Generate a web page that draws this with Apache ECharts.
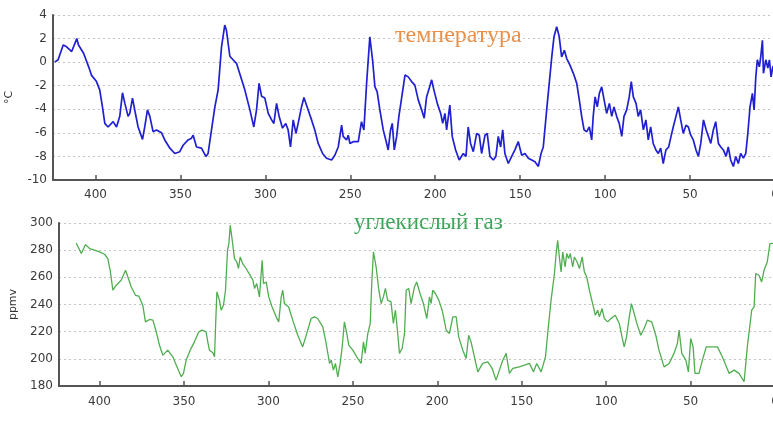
<!DOCTYPE html>
<html><head><meta charset="utf-8">
<script src="https://cdn.jsdelivr.net/npm/echarts@6/dist/echarts.min.js"></script>
<style>html,body{margin:0;padding:0;background:#fff}#c{width:773px;height:426px}</style>
</head><body><div id="c"></div>
<script>
// Age (thousand years before present) and temperature anomaly (°C)
const tempAge = [424,422,419,417,414,411,410,407,404,402.4,399.4,397.5,395.9,394.5,392.6,389.6,387.6,385.7,384.1,382.7,380.8,379.8,378.2,376.9,374.9,372.3,371,369.4,368,366.1,364.1,361.1,359.2,356.2,353.3,350.4,348.4,345.5,343.5,342.5,340.5,337.6,335,333.7,331.7,329.7,327.8,325.8,323.9,322.9,320.9,319,317,315,312.1,309.1,306.8,305.2,303.7,302.2,300.3,298.3,296.3,295,293.4,291.9,289.9,288,286.6,285.2,283.6,282,280.7,278.7,277.3,275.4,272.8,270.9,268.9,266.3,264,261,259.1,257.1,255.1,254.2,252.2,251.2,250.2,248.3,245.3,243.4,242,240.4,238.5,236.9,235.5,234.2,232.6,230.6,228.6,227.7,226.3,225.3,224.1,222.7,221.4,219.8,217.8,215.9,213.9,212,210,208,206.5,205.1,203.5,202.1,200.8,198.8,196.8,195.6,194.3,193.3,191.4,190,188,185.9,183.5,181.9,180.6,179.2,177.6,175.6,174.1,172.7,170.7,169.4,167.8,165.8,164.3,162.9,161.5,160.3,159,157,155,153.1,151.1,149.1,147.2,145.2,143.2,141.3,139.3,137.7,136.4,134.4,132.9,131.4,130.1,128.5,127,125.6,124,122.6,120.7,118.7,116.7,115.2,113.8,112.4,110.8,109.3,107.9,107,105.9,104.6,103.4,102,100.6,99.1,97.5,96.1,94.8,93.2,91.7,90.2,88.9,87.3,85.8,84.6,83.4,81.8,80.5,79.1,77.5,76,74.6,73.2,71.7,70.1,68.7,67.3,65.8,64.2,62.6,61.2,59.9,58.3,56.9,55.5,54,52.4,51,49.6,48.1,46.5,45.1,43.7,42.1,40.5,39.2,37.8,36.3,34.9,33.3,31.9,30.4,28.8,27.5,26.1,24.5,23.1,21.6,20.2,18.6,17.2,16,14.7,13.3,12.3,11.3,10.4,9.2,8.4,7.4,6.8,5.4,4.2,3.3,2.3,1.3,0];
const tempVal = [0,0.2,1.45,1.3,0.9,2.0,1.45,0.75,-0.4,-1.1,-1.65,-2.35,-3.8,-5.2,-5.5,-5.05,-5.5,-4.6,-2.6,-3.5,-4.6,-4.35,-3.05,-4.05,-5.5,-6.55,-5.5,-4.05,-4.6,-5.9,-5.75,-6.0,-6.6,-7.3,-7.75,-7.6,-7.05,-6.6,-6.45,-6.2,-7.2,-7.3,-8.0,-7.75,-5.75,-3.8,-2.35,1.3,3.15,2.7,0.5,0.2,-0.1,-1.0,-2.35,-4.05,-5.5,-4.05,-1.8,-2.9,-3.05,-4.35,-4.9,-5.2,-3.5,-4.6,-5.6,-5.2,-5.75,-7.2,-4.9,-6.05,-5.2,-3.8,-3.0,-3.8,-4.9,-5.75,-6.9,-7.75,-8.15,-8.3,-7.9,-7.2,-5.35,-6.3,-6.6,-6.2,-6.9,-6.75,-6.75,-5.05,-5.75,-1.8,2.15,0.2,-2.1,-2.5,-4.05,-5.75,-6.9,-7.45,-5.75,-5.2,-7.45,-6.3,-4.6,-3.05,-1.1,-1.25,-1.65,-1.95,-3.2,-4.05,-4.75,-2.95,-2.2,-1.5,-2.35,-3.5,-4.35,-5.2,-4.35,-5.75,-3.65,-6.3,-7.45,-8.3,-7.75,-8.0,-5.5,-6.9,-7.6,-6.05,-6.2,-7.75,-6.2,-6.05,-8.0,-8.3,-8.0,-6.3,-7.2,-5.75,-7.75,-8.6,-8.0,-7.45,-6.75,-7.9,-7.75,-8.15,-8.3,-8.45,-8.85,-7.75,-7.2,-4.05,-1.8,0.45,2.15,3.0,2.15,0.45,1.0,0.3,-0.25,-0.95,-1.8,-3.2,-4.6,-5.75,-5.9,-5.5,-6.6,-4.6,-2.95,-3.8,-2.65,-2.1,-3.2,-4.35,-3.5,-4.6,-3.8,-4.6,-5.2,-6.3,-4.6,-4.05,-2.95,-1.65,-2.95,-3.5,-4.6,-4.05,-5.75,-4.9,-6.6,-5.5,-6.9,-7.45,-7.75,-7.3,-8.6,-7.45,-7.2,-6.3,-5.5,-4.6,-3.8,-4.9,-6.05,-5.35,-5.5,-6.2,-6.6,-7.45,-8.0,-6.9,-4.9,-5.75,-6.3,-6.9,-5.75,-5.05,-6.9,-7.2,-7.45,-8.0,-7.2,-8.3,-8.85,-8.0,-8.6,-7.75,-8.15,-7.75,-6.05,-3.8,-2.65,-4.05,-1.25,0.2,-0.4,0.45,1.85,-0.95,0.2,-0.5,0.2,-1.25,-0.4,-0.2];

// Age (thousand years) and CO2 concentration (ppmv)
const co2Age = [413.8,410.8,408.3,405.9,403,400,397,395.1,393.7,392.1,390.1,387.2,384.6,383.2,381.2,378.7,376.7,374.4,372.8,370.4,368.4,366.4,364.5,362.5,359.6,356.6,354.6,351.6,350.3,348.7,346.3,343.8,341.2,339.2,336.9,335.9,334.9,332.9,331.9,331.3,330.5,329,328,326.6,325.4,324.2,323.4,322.6,321.4,320.1,318.7,317.7,316.7,315.2,313.2,310.8,309.2,308.2,306.9,305.3,303.7,302.9,301.3,299.8,297.8,295.4,293.9,292.4,291.5,290.5,288,285.6,282.6,279.7,276.7,274.7,272.7,270.8,269.7,267.8,265.8,263.8,262.8,261.5,260.3,258.9,257.5,256.3,255,253.6,252.4,250,247.7,245.1,243.7,242.7,241.1,239.7,238.8,237.8,236.2,234.6,233.2,231.9,230.7,229.4,227.4,226,224.8,223.4,222.4,220.8,219.4,218.4,216.9,215.5,213.5,212.2,210.2,208.2,206.2,204.6,203.6,202.7,201.1,199.1,197.1,194.7,192.8,190.8,188.8,187.3,184.9,182.9,181.4,180,178,176,173.1,170.1,167.5,165.2,163.2,161.2,159.2,157.3,155.3,151.4,148.4,145.4,143,141.1,138.5,135.9,134.6,132.6,130.6,129.6,128.7,127.7,126.7,125.7,124.3,123.3,122.2,121.2,119.8,118.8,117.2,115.8,114.2,112.9,111.5,109.9,108,106.4,105,104,102.4,101.1,99.1,97.1,94.6,92.2,90.6,89.3,87.9,86.3,85,83.4,81.5,79.5,77.5,75.6,73,70.6,68.7,65.7,62.7,59.8,57.8,56.8,55.2,52.8,51.3,49.9,48.5,47.4,45,43,40.7,37.1,34.1,31.2,27.2,24.2,21.3,18.3,16.4,13.8,12.4,11.4,9.5,7.9,6.5,4.6,3,1];
const co2Val = [285.3,277.5,284.1,281.2,280,278.7,277,273.8,265.2,250.5,254.2,257.9,265.2,260.3,252.9,246.8,246.1,239.5,227.2,229,228.5,219.9,210,202.7,206.4,201.5,195.4,186.8,189.3,199,206.4,212.5,219.9,221.1,219.9,212.5,206.4,204.4,201.5,223.5,249.3,243.2,235.8,239.5,250.5,279.9,284.8,298.3,287.3,273.8,271.3,266.5,275,270.1,266.5,261.5,257.9,251.8,255.4,245.6,272.6,255.4,256.6,245.6,238.2,230.9,227.2,245.6,250.5,240.7,238.2,228.5,217.4,208.8,221.1,229.7,230.9,229.7,230.9,223.5,211.3,196.6,199,191.7,196.6,186.8,196.6,208.8,227.2,218.7,210.1,206.4,201.5,196.6,212.5,204,218.7,226,255.4,278.7,267.6,250.5,240.7,245.6,251.8,243.2,241.9,226,235.8,218.7,204,207.6,218.7,250.5,251.8,240.7,252.9,256.6,248.1,240.7,229.7,245.6,240.7,250.5,248.1,243.2,235.8,221.1,218.7,230.9,230.9,216.2,206.4,200.3,217.4,212.5,201.5,190.4,196.6,197.8,192.9,184.3,191.7,199,204,189.3,192.9,194.1,195.4,196.6,190.4,196.6,190.4,201.5,218.7,243.2,262.8,277.5,287.3,275,264,278.7,267.6,277.5,273.8,277.5,267.6,275,271.3,266.5,275,264,260.3,250.5,240.7,232.1,235.8,230.9,237,229.7,227.2,229.7,232.1,226,216.2,208.8,216.2,230.9,240.7,233.4,224.8,217.4,222.3,228.5,227.2,217.4,206.4,194.1,196.6,204,211.3,221.1,204,199,190.4,215,208.8,189.3,189.3,199,208.8,208.8,208.8,201.5,189.3,191.7,189.3,183.1,208.8,235.8,238.2,262.8,261.5,256.6,265.2,271.3,284.8,285];

const xTicks = [0,50,100,150,200,250,300,350,400];
const tempTicks = [-10,-8,-6,-4,-2,0,2,4];
const co2Ticks = [180,200,220,240,260,280,300];
const tempLabel = 'температура';
const co2Label = 'углекислый газ';

const tempData = tempAge.map((a,i)=>[a,tempVal[i]]);
const co2Data = co2Age.map((a,i)=>[a,co2Val[i]]);

const axisColor = '#555';
const labelStyle = {color:'#3a3a3a', fontSize:12, fontFamily:'DejaVu Sans, sans-serif'};

function xAxisCfg(gi, max, margin){
  return {
    type:'value', gridIndex:gi, min:0, max:max, interval:50, inverse:true,
    axisLine:{show:true, onZero:false, lineStyle:{color:axisColor, width:2}},
    axisTick:{show:true, inside:true, length:5, lineStyle:{color:axisColor, width:1.5}, customValues:xTicks},
    axisLabel:Object.assign({margin:margin, customValues:xTicks, formatter:v=>xTicks.includes(v)?String(v):''}, labelStyle),
    splitLine:{show:false}
  };
}
function yAxisCfg(gi, min, max, interval, name, gap){
  return {
    type:'value', gridIndex:gi, min:min, max:max, interval:interval,
    name:name, nameLocation:'middle', nameGap:gap, nameRotate:90,
    nameTextStyle:{color:'#333', fontSize:11, fontFamily:'DejaVu Sans, sans-serif'},
    axisLine:{show:true, onZero:false, lineStyle:{color:axisColor, width:2}},
    axisTick:{show:false},
    axisLabel:Object.assign({margin:6}, labelStyle),
    splitLine:{show:true, lineStyle:{color:'#c4c4c4', type:[2,3], width:1.2}}
  };
}

const chart = echarts.init(document.getElementById('c'), null, {renderer:'canvas'});
chart.setOption({
  animation:false,
  backgroundColor:'#fff',
  grid:[
    {left:53, top:15, width:722, height:165, outerBoundsMode:'none', containLabel:false},
    {left:59, top:223, width:716, height:163, outerBoundsMode:'none', containLabel:false}
  ],
  xAxis:[xAxisCfg(0,425,9), xAxisCfg(1,424,10)],
  yAxis:[
    yAxisCfg(0, tempTicks[0], tempTicks[tempTicks.length-1], 2, '°C', 38),
    yAxisCfg(1, co2Ticks[0], co2Ticks[co2Ticks.length-1], 20, 'ppmv', 40)
  ],
  series:[
    {type:'line', xAxisIndex:0, yAxisIndex:0, data:tempData, showSymbol:false, symbol:'none',
     lineStyle:{color:'#2020d0', width:1.7}},
    {type:'line', xAxisIndex:1, yAxisIndex:1, data:co2Data, showSymbol:false, symbol:'none',
     lineStyle:{color:'#4fae4f', width:1.3}}
  ],
  graphic:[
    {type:'text', left:395, top:24, style:{text:tempLabel, fill:'#e8904a', font:'24px "Liberation Serif", serif'}},
    {type:'text', left:354, top:211, style:{text:co2Label, fill:'#3da55a', font:'23px "Liberation Serif", serif'}}
  ]
});
</script></body></html>
